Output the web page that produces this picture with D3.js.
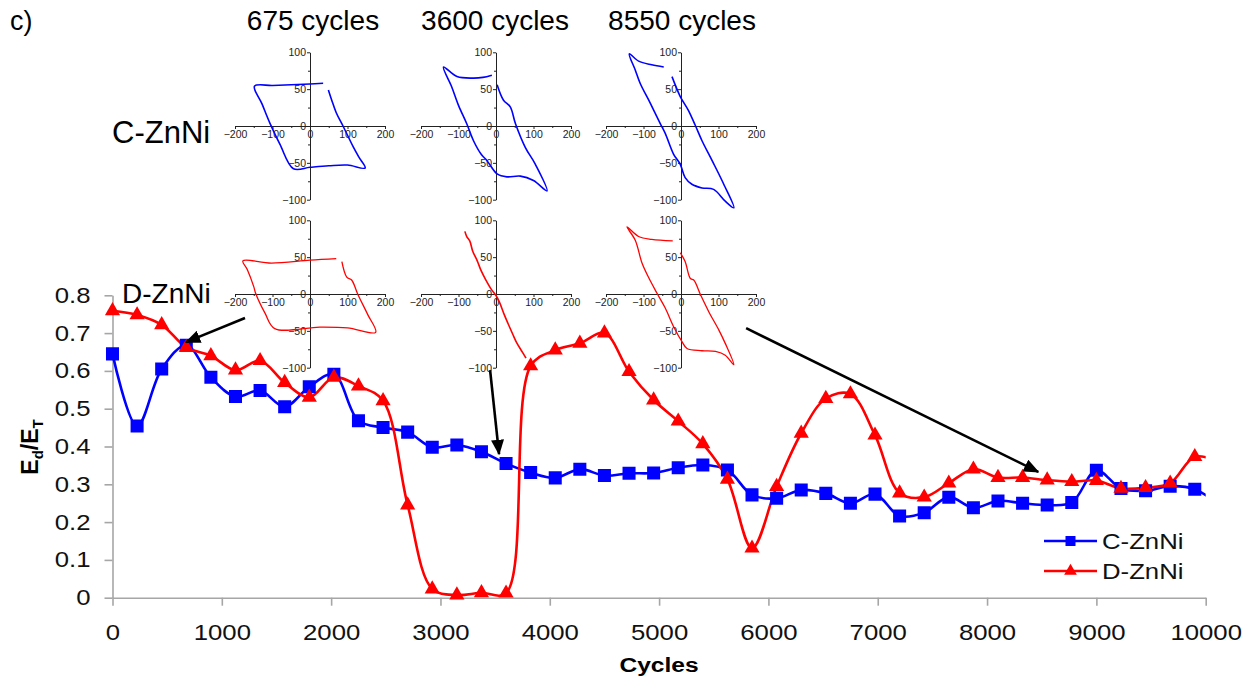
<!DOCTYPE html>
<html>
<head>
<meta charset="utf-8">
<script src="https://cdn.jsdelivr.net/npm/d3@7"></script>
<style>
  body { margin: 0; background: #fff; }
  svg { font-family: "Liberation Sans", Arial, sans-serif; }
</style>
</head>
<body>
<script>
// main series: E_d/E_T vs cycles
var cycles = [0,225,450,675,900,1125,1350,1575,1800,2025,2250,2475,2700,2925,3150,3375,3600,3825,4050,4275,4500,4725,4950,5175,5400,5625,5850,6075,6300,6525,6750,6975,7200,7425,7650,7875,8100,8325,8550,8775,9000,9225,9450,9675,9900,10125];
var cZnNi = [0.645,0.454,0.605,0.668,0.583,0.532,0.548,0.505,0.558,0.591,0.468,0.450,0.438,0.398,0.404,0.386,0.355,0.331,0.317,0.340,0.323,0.329,0.330,0.344,0.351,0.338,0.272,0.263,0.285,0.276,0.250,0.274,0.216,0.225,0.266,0.238,0.256,0.250,0.245,0.252,0.337,0.289,0.283,0.295,0.287,0.245];
var dZnNi = [0.759,0.748,0.722,0.662,0.640,0.602,0.627,0.569,0.530,0.583,0.560,0.521,0.245,0.023,0.007,0.013,0.012,0.613,0.655,0.673,0.700,0.598,0.523,0.467,0.407,0.313,0.131,0.294,0.435,0.527,0.539,0.430,0.277,0.266,0.303,0.340,0.318,0.318,0.311,0.307,0.310,0.289,0.291,0.303,0.373,0.360];

var xTicks = [0,1000,2000,3000,4000,5000,6000,7000,8000,9000,10000];
var yTicks = [0,0.1,0.2,0.3,0.4,0.5,0.6,0.7,0.8];
var seriesNames = ["C-ZnNi","D-ZnNi"];
var insetTitles = ["675 cycles","3600 cycles","8550 cycles"];

// hysteresis loops (stress vs strain), one per inset
var loop675C = [[35,58],[0,57],[-50,56],[-100,55],[-148,54],[-128,30],[-107,4],[-80,-25],[-44,-58],[0,-56],[50,-54],[100,-53],[147,-57],[130,-42],[115,-28],[89,-1],[70,18],[58,35],[49,49]];
var loop3600C = [[-11,69],[-35,66],[-60,65],[-104,67],[-140,80],[-118,53],[-100,28],[-78,3],[-60,-20],[-40,-38],[-24,-47],[3,-65],[29,-69],[65,-68],[100,-74],[136,-88],[105,-52],[78,-29],[52,3],[38,26],[20,35],[3,56]];
var loop8550C = [[-46,80],[-78,83],[-113,88],[-138,98],[-122,76],[-109,58],[-82,31],[-55,3],[-42,-10],[-20,-38],[-2,-52],[11,-70],[29,-79],[56,-84],[87,-86],[118,-102],[141,-111],[114,-79],[83,-47],[56,-20],[38,1],[20,21],[-2,40],[-24,67]];
var loop675D = [[70,48],[0,46],[-103,42],[-179,45],[-167,33],[-150,10],[-145,1],[-120,-26],[-94,-47],[26,-45],[100,-46],[175,-52],[154,-28],[128,-1],[111,19],[98,23],[85,44]];
var loop3600D = [[-83,85],[-78,78],[-70,72],[-62,58],[-50,45],[-40,32],[-28,20],[-12,6],[0,-2],[10,-12],[22,-28],[32,-40],[45,-55],[55,-66],[68,-77],[80,-87]];
var loop8550D = [[-22,72],[-78,74],[-113,78],[-144,91],[-122,73],[-104,42],[-87,23],[-64,1],[-42,-19],[-20,-44],[3,-65],[16,-74],[56,-77],[92,-78],[118,-83],[141,-96],[118,-67],[101,-49],[74,-24],[52,-1],[34,19],[25,21],[11,44],[-2,56]];

// arrows from insets to points (cycles, Ed/ET)
var arrowFrom = [[1212,0.740],[3454,0.602],[5796,0.713]];
var arrowTo   = [[672,0.676],[3536,0.380],[8468,0.333]];

var W = 1254, H = 682;
var SX = 1.17;   // chart text in the picture is a bit wide
var margin = {top: 295.3, left: 112.5},
    width = 1093.2,
    height = 302.4;

var svg = d3.select("body").append("svg")
    .attr("width", W)
    .attr("height", H);

var defs = svg.append("defs");
defs.append("marker")
    .attr("id", "arrowhead")
    .attr("viewBox", "0 0 12 10")
    .attr("refX", 11).attr("refY", 5)
    .attr("markerWidth", 6).attr("markerHeight", 5)
    .attr("markerUnits", "strokeWidth")
    .attr("orient", "auto")
  .append("path")
    .attr("d", "M0,0 L12,5 L0,10 z")
    .attr("fill", "#000");

defs.append("clipPath").attr("id", "plotclip")
  .append("rect")
    .attr("x", -20).attr("y", -20)
    .attr("width", width + 20).attr("height", height + 40);

// ---- insets ----
var insetCx = [310, 496, 681];
var insetCy = [126, 294];
var insets = [
  {loop: loop675C, col: 0, row: 0, color: "#0000ff", sw: 1.6},
  {loop: loop3600C, col: 1, row: 0, color: "#0000ff", sw: 1.6},
  {loop: loop8550C, col: 2, row: 0, color: "#0000ff", sw: 1.6},
  {loop: loop675D, col: 0, row: 1, color: "#ff0000", sw: 1.3},
  {loop: loop3600D, col: 1, row: 1, color: "#ff0000", sw: 1.6},
  {loop: loop8550D, col: 2, row: 1, color: "#ff0000", sw: 1.3}
];

insets.forEach(function(ins) {
  var cx = insetCx[ins.col], cy = insetCy[ins.row];
  var xs = d3.scaleLinear().domain([-200, 200]).range([cx - 75, cx + 75]);
  var ys = d3.scaleLinear().domain([-100, 100]).range([cy + 73.7, cy - 73.7]);
  var gi = svg.append("g").attr("class", "inset");

  gi.append("g")
      .attr("transform", "translate(0," + ys(0) + ")")
      .call(d3.axisBottom(xs).tickValues([-200,-100,0,100,200]).tickSize(3).tickSizeOuter(0).tickPadding(2));
  gi.append("g")
      .attr("transform", "translate(0," + ys(0) + ")")
      .call(d3.axisBottom(xs).tickValues([-150,-50,50,150]).tickSize(2).tickFormat(""))
      .select(".domain").remove();
  gi.append("g")
      .attr("transform", "translate(" + xs(0) + ",0)")
      .call(d3.axisLeft(ys).tickValues([-100,-50,0,50,100]).tickSize(3).tickSizeOuter(0).tickPadding(1));
  gi.append("g")
      .attr("transform", "translate(" + xs(0) + ",0)")
      .call(d3.axisLeft(ys).tickValues([-75,-25,25,75]).tickSize(2).tickFormat(""))
      .select(".domain").remove();

  gi.selectAll(".domain, .tick line").attr("stroke", "#222").attr("stroke-width", 1);
  gi.selectAll("text").attr("font-size", "10.5px").attr("fill", "#222")
    .attr("font-family", "'Liberation Sans', Arial, sans-serif");

  var loopLine = d3.line()
      .x(function(d) { return xs(d[0]); })
      .y(function(d) { return ys(d[1]); })
      .curve(d3.curveCatmullRom);
  gi.append("path")
      .datum(ins.loop)
      .attr("fill", "none")
      .attr("stroke", ins.color)
      .attr("stroke-width", ins.sw)
      .attr("d", loopLine);
});

// ---- main chart ----
var g = svg.append("g")
    .attr("transform", "translate(" + margin.left + "," + margin.top + ")");

var x = d3.scaleLinear().domain([0, 10000]).range([0, width]);
var y = d3.scaleLinear().domain([0, 0.8]).range([height, 0]);

var yAxis = g.append("g")
    .call(d3.axisLeft(y).tickValues(yTicks).tickSize(8).tickSizeOuter(0)
      .tickFormat(function(d) { return d === 0 ? "0" : d3.format(".1f")(d); }));
yAxis.selectAll("text")
    .attr("x", -22 / SX)
    .attr("transform", "scale(" + SX + ",1)");

var xAxis = g.append("g")
    .attr("transform", "translate(0," + height + ")")
    .call(d3.axisBottom(x).tickValues(xTicks).tickSize(8).tickSizeOuter(0).tickFormat(d3.format("d")));
xAxis.selectAll("text")
    .attr("y", 42).attr("dy", null)
    .attr("transform", "scale(" + SX + ",1)");

g.selectAll(".domain, .tick line").attr("stroke", "#a6a6a6").attr("stroke-width", 1.6);
g.selectAll(".tick text").attr("font-size", "22px").attr("fill", "#111")
  .attr("font-family", "'Liberation Sans', Arial, sans-serif");

var pts = cycles.map(function(c, i) { return {c: c, a: cZnNi[i], b: dZnNi[i]}; });

var plot = g.append("g").attr("clip-path", "url(#plotclip)");

var lineC = d3.line()
    .x(function(d) { return x(d.c); })
    .y(function(d) { return y(d.a); })
    .curve(d3.curveCatmullRom);
var lineD = d3.line()
    .x(function(d) { return x(d.c); })
    .y(function(d) { return y(d.b); })
    .curve(d3.curveCatmullRom);

plot.append("path").datum(pts)
    .attr("fill", "none").attr("stroke", "#0000ff").attr("stroke-width", 2.6)
    .attr("d", lineC);
plot.append("path").datum(pts)
    .attr("fill", "none").attr("stroke", "#ff0000").attr("stroke-width", 2.6)
    .attr("d", lineD);

var square = d3.symbol().type(d3.symbolSquare).size(170);
var triangle = d3.symbol().type(d3.symbolTriangle).size(100);

plot.selectAll(".sq").data(pts).enter()
  .append("path")
    .attr("class", "sq")
    .attr("d", square)
    .attr("transform", function(d) { return "translate(" + x(d.c) + "," + y(d.a) + ")"; })
    .attr("fill", "#0000ff");
plot.selectAll(".tri").data(pts).enter()
  .append("path")
    .attr("class", "tri")
    .attr("d", triangle)
    .attr("transform", function(d) { return "translate(" + x(d.c) + "," + y(d.b) + ")"; })
    .attr("fill", "#ff0000");

// arrows
g.selectAll(".arrow").data(arrowFrom).enter()
  .append("line")
    .attr("class", "arrow")
    .attr("x1", function(d) { return x(d[0]); })
    .attr("y1", function(d) { return y(d[1]); })
    .attr("x2", function(d, i) { return x(arrowTo[i][0]); })
    .attr("y2", function(d, i) { return y(arrowTo[i][1]); })
    .attr("stroke", "#000")
    .attr("stroke-width", 2.6)
    .attr("marker-end", "url(#arrowhead)");

// axis titles
var yt = svg.append("text")
    .attr("transform", "translate(38,447) rotate(-90)")
    .attr("text-anchor", "middle")
    .attr("font-size", "23px")
    .attr("font-weight", "bold");
yt.append("tspan").text("E");
yt.append("tspan").attr("dy", 5).attr("font-size", "15px").text("d");
yt.append("tspan").attr("dy", -5).text("/E");
yt.append("tspan").attr("dy", 5).attr("font-size", "15px").text("T");

svg.append("text")
    .attr("transform", "translate(659,672) scale(" + SX + ",1)")
    .attr("text-anchor", "middle")
    .attr("font-size", "21px")
    .attr("font-weight", "bold")
    .text("Cycles");

// legend
var legend = svg.append("g").attr("transform", "translate(1044,541)");
seriesNames.forEach(function(name, i) {
  var row = legend.append("g").attr("transform", "translate(0," + (i * 30) + ")");
  row.append("line")
      .attr("x1", 0).attr("x2", 53).attr("y1", 0).attr("y2", 0)
      .attr("stroke", i === 0 ? "#0000ff" : "#ff0000")
      .attr("stroke-width", 2.6);
  row.append("path")
      .attr("d", i === 0 ? d3.symbol().type(d3.symbolSquare).size(100)() : d3.symbol().type(d3.symbolTriangle).size(70)())
      .attr("transform", "translate(26.5,0)")
      .attr("fill", i === 0 ? "#0000ff" : "#ff0000");
  row.append("text")
      .attr("transform", "translate(58,0) scale(" + SX + ",1)")
      .attr("dy", "0.35em")
      .attr("font-size", "22px")
      .attr("fill", "#111")
      .text(name);
});

// annotation labels
svg.append("text").attr("x", 10).attr("y", 30).attr("font-size", "27px").text("c)");
insetTitles.forEach(function(t, i) {
  svg.append("text")
      .attr("x", [313, 495, 682][i]).attr("y", 30)
      .attr("text-anchor", "middle")
      .attr("font-size", "28px")
      .text(t);
});
svg.append("text").attr("x", 112).attr("y", 143).attr("font-size", "31px").text(seriesNames[0]);
svg.append("text").attr("x", 122).attr("y", 303).attr("font-size", "28px").text(seriesNames[1]);
</script>
</body>
</html>
